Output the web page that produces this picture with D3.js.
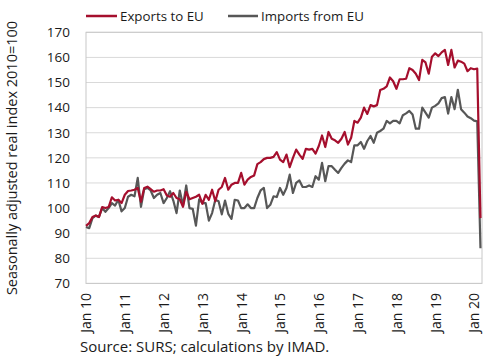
<!DOCTYPE html>
<html>
<head>
<meta charset="utf-8">
<script src="https://cdn.jsdelivr.net/npm/d3@7"></script>
<style>
  html, body { margin: 0; padding: 0; background: #fff; }
  svg { display: block; }
  text { font-family: "Open Sans", "Noto Sans", sans-serif; fill: #1a1a1a; }
</style>
</head>
<body>
<svg id="chart" width="490" height="359"></svg>
<script>
// Monthly, Jan 2010 .. Mar 2020 (index 0 = Jan 2010)
const startYear = 2010;
const exportsEU = [
  92.9, 94, 96.4, 97, 96.4, 100.4, 100, 100.4, 104.3, 103, 103.3, 102,
  105.3, 106.8, 107, 107.3, 108, 102.5, 108, 108.5, 107.5, 106.5, 107, 107,
  107.5, 105, 104.5, 106, 104, 103.5, 100.5, 106.5, 103.5, 104, 104.5, 105.3,
  101.7, 105.3, 103.3, 107.3, 102.7, 107.3, 108.4, 112, 107.3, 109.3, 110, 110,
  114, 109.3, 111.3, 112.4, 113, 117.5, 118.3, 119.5, 120, 120, 120.4, 122.3,
  119.3, 118.3, 121.3, 116.3, 120, 123.3, 121.3, 119.6, 123.6, 123.3, 123.6, 121.7,
  124.7, 128.9, 124.3, 130.3, 127.6, 127, 126, 127.6, 130.3, 125.3, 128, 134.7,
  134, 136, 140, 137.5, 141, 140.5, 141, 147, 147.5, 148.5, 152, 150.5,
  147.5, 151.3, 151.3, 151.5, 155.7, 155, 153.5, 151, 159, 158, 153.5, 160.3,
  161.6, 160.5, 162, 163, 157, 163, 156, 158.7, 158.3, 157.5, 154.5, 155.7,
  155.3, 155.5, 96
];
const importsEU = [
  92.5, 92, 96, 97, 96.5, 100, 98.5, 100, 102, 101, 103.3, 98.7,
  100, 104.5, 105.3, 104.7, 112, 100.5, 107.5, 108, 107, 104, 105.3, 106,
  102, 104, 106.7, 103, 98, 107, 101, 109, 100, 99.7, 93, 103.5,
  102, 102, 95, 98, 103.3, 102.7, 97.5, 103, 97.7, 95.7, 103.3, 103,
  100, 100, 101.5, 100, 100, 104, 107, 108, 100, 101.3, 104.7, 104.4,
  108, 105.3, 108, 113.3, 106, 110, 111, 108.4, 108.4, 109, 108.4, 112.7,
  111.3, 118, 110.7, 116.7, 116.7, 115.3, 114, 116, 117.7, 119, 118.3, 125,
  125, 126.3, 123.6, 126.7, 128.7, 126, 130, 130.7, 131.6, 134.7, 133.7, 134.7,
  134.7, 133.7, 137, 137.7, 138.7, 137.3, 131.6, 131.6, 140, 138, 136, 140,
  140.7, 141.7, 143.8, 144.2, 137.6, 144.2, 139.4, 147.1, 139.4, 138, 136.5, 135.8,
  134.8, 134.5, 84
];
const xTickLabels = ["Jan 10","Jan 11","Jan 12","Jan 13","Jan 14","Jan 15","Jan 16","Jan 17","Jan 18","Jan 19","Jan 20"];
const yTicks = [70, 80, 90, 100, 110, 120, 130, 140, 150, 160, 170];
const seriesNames = ["Exports to EU", "Imports from EU"];
const seriesColors = ["#a50f2d", "#575757"];
const yTitle = "Seasonally adjusted real index 2010=100";
const sourceText = "Source: SURS; calculations by IMAD.";

const svg = d3.select("#chart");
const m = { left: 86, right: 482, top: 32.3, bottom: 283.4 };

const x = d3.scaleLinear().domain([0, 120]).range([m.left, 474]);
const y = d3.scaleLinear().domain([70, 170]).range([m.bottom, m.top]);

// gridlines
svg.append("g").selectAll("line").data(yTicks).join("line")
  .attr("x1", m.left).attr("x2", m.right)
  .attr("y1", d => y(d)).attr("y2", d => y(d))
  .attr("stroke", "#d9d9d9").attr("stroke-width", 1);

// plot border
svg.append("rect")
  .attr("x", m.left).attr("y", m.top)
  .attr("width", m.right - m.left).attr("height", m.bottom - m.top)
  .attr("fill", "none").attr("stroke", "#c8c8c8").attr("stroke-width", 1);

// y axis
const yAxis = d3.axisLeft(y).tickValues(yTicks).tickSize(0).tickPadding(16);
const gy = svg.append("g").attr("transform", `translate(${m.left},0)`).call(yAxis);
gy.select(".domain").remove();
gy.selectAll("text").attr("font-size", 13.5).attr("font-family", "Open Sans").attr("fill", "#1a1a1a");

// x axis
const xTickVals = xTickLabels.map((_, k) => k * 12);
const xAxis = d3.axisBottom(x).tickValues(xTickVals).tickFormat((d, k) => xTickLabels[k]).tickSize(0);
const gx = svg.append("g").attr("transform", `translate(0,${m.bottom})`).call(xAxis);
gx.select(".domain").remove();
gx.selectAll("text")
  .attr("font-size", 14).attr("font-family", "Open Sans").attr("fill", "#1a1a1a")
  .attr("text-anchor", "end")
  .attr("transform", "rotate(-90)")
  .attr("x", -9.5).attr("y", 0).attr("dy", "0.35em");

// lines
const line = d3.line().x((d, i) => x(i)).y(d => y(d));
[importsEU, exportsEU].forEach((s, k) => {
  const col = k === 0 ? seriesColors[1] : seriesColors[0];
  svg.append("path").datum(s)
    .attr("d", line).attr("fill", "none")
    .attr("stroke", col).attr("stroke-width", 2.2)
    .attr("stroke-linejoin", "round");
});

// legend
const legend = [
  { x1: 86, x2: 117, tx: 120 },
  { x1: 228, x2: 258, tx: 261 }
];
legend.forEach((l, k) => {
  svg.append("line").attr("x1", l.x1).attr("x2", l.x2).attr("y1", 16).attr("y2", 16)
    .attr("stroke", seriesColors[k]).attr("stroke-width", 2.5);
  svg.append("text").attr("x", l.tx).attr("y", 21).attr("font-size", 13.3)
    .text(seriesNames[k]);
});

// y title
svg.append("text")
  .attr("transform", `translate(17,158) rotate(-90)`)
  .attr("text-anchor", "middle").attr("font-size", 14.5)
  .text(yTitle);

// source
svg.append("text").attr("x", 80).attr("y", 352).attr("font-size", 15)
  .text(sourceText);
</script>
</body>
</html>
